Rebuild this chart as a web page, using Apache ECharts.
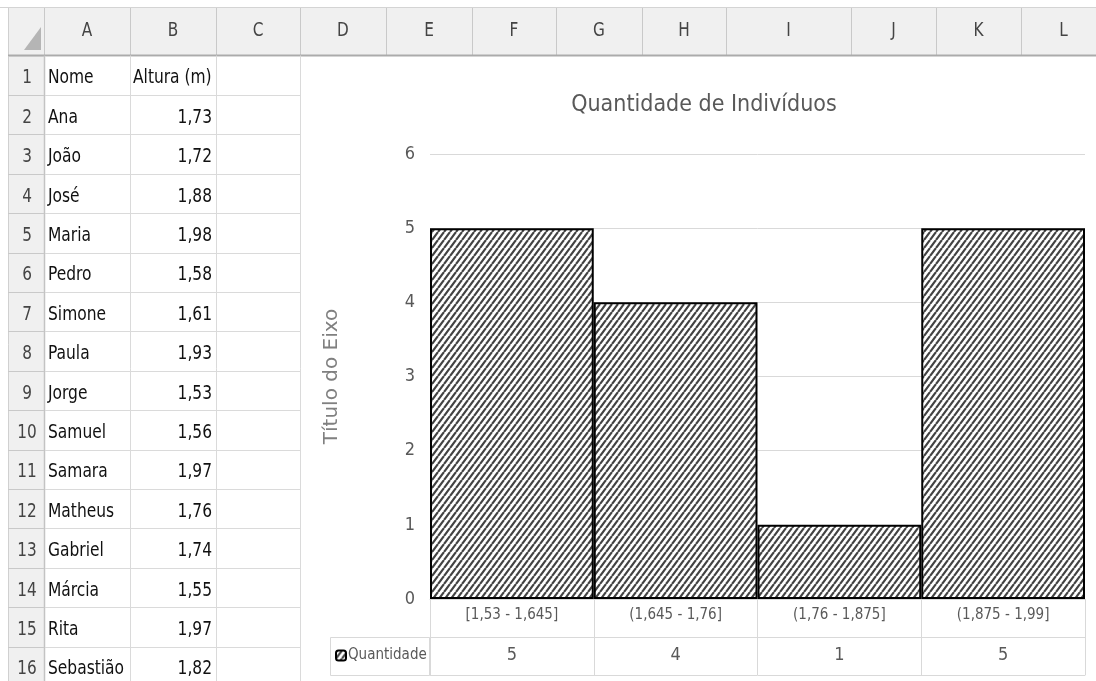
<!DOCTYPE html>
<html>
<head>
<meta charset="utf-8">
<script src="https://cdn.jsdelivr.net/npm/echarts@6/dist/echarts.min.js"></script>
<style>
html,body{margin:0;padding:0;background:#fff;}
#main{width:1096px;height:681px;}
</style>
</head>
<body>
<div id="main"></div>
<script>
// ---- data ----
const columnLetters = ['A','B','C','D','E','F','G','H','I','J','K','L'];
const headerRow = ['Nome','Altura (m)'];
const names = ['Ana','João','José','Maria','Pedro','Simone','Paula','Jorge','Samuel','Samara','Matheus','Gabriel','Márcia','Rita','Sebastião'];
const heights = [1.73,1.72,1.88,1.98,1.58,1.61,1.93,1.53,1.56,1.97,1.76,1.74,1.55,1.97,1.82];
const categories = ['[1,53 - 1,645]','(1,645 - 1,76]','(1,76 - 1,875]','(1,875 - 1,99]'];
const quantities = [5,4,1,5];
const seriesName = 'Quantidade';
const chartTitle = 'Quantidade de Indivíduos';
const yAxisTitle = 'Título do Eixo';

// ---- styles / layout ----
const FONT = '"Liberation Sans Narrow","DejaVu Sans Condensed","Roboto Condensed","Noto Sans",sans-serif';
const colEdges = [44,130,216,300,386,472,556,642,726,851,936,1021,1106];
const rowTop = 55.5, rowH = 39.4, headTop = 8, rhLeft = 8;

function hatch(){
  const W = 6, H = 8;
  const c = document.createElement('canvas');
  c.width = W; c.height = H;
  const g = c.getContext('2d');
  g.fillStyle = '#ffffff'; g.fillRect(0,0,W,H);
  g.strokeStyle = '#434343'; g.lineWidth = 2.2;
  g.beginPath();
  [-W, 0, W].forEach(function(dx){ g.moveTo(dx, H); g.lineTo(dx + W, 0); });
  g.stroke();
  return c;
}
const hatchFill = {image: hatch(), repeat: 'repeat'};

function txt(text, x, y, align, size, color, sx){
  return {type:'text', z:-1, silent:true, x:x, y:y, scaleX: sx || 0.9,
    style:{text:text, x:0, y:0, align:align, textAlign:align, verticalAlign:'middle', textVerticalAlign:'middle', font: size+'px '+FONT, fill:color}};
}
function ln(x1,y1,x2,y2,color,w){
  return {type:'line', z:-2, silent:true, shape:{x1:x1,y1:y1,x2:x2,y2:y2}, style:{stroke:color, lineWidth:w||1}};
}

const g = [];
// header backgrounds
g.push({type:'rect', z:-3, silent:true, shape:{x:rhLeft,y:headTop,width:1096-rhLeft,height:rowTop-headTop}, style:{fill:'#f0f0f0'}});
g.push({type:'rect', z:-3, silent:true, shape:{x:rhLeft,y:rowTop,width:44-rhLeft,height:681-rowTop}, style:{fill:'#f0f0f0'}});
g.push(ln(0,7.5,1096,7.5,'#d4d4d4',1));
g.push(ln(rhLeft+0.5,headTop,rhLeft+0.5,681,'#d0d0d0',1));
// corner triangle
g.push({type:'polygon', z:-1, silent:true, shape:{points:[[24,50],[41,50],[41,27]]}, style:{fill:'#b5b5b5'}});
// column header separators & letters
colEdges.forEach(function(x){ g.push(ln(x+0.5,headTop,x+0.5,rowTop,'#c9c9c9',1)); });
columnLetters.forEach(function(l,i){ g.push(txt(l,(colEdges[i]+colEdges[i+1])/2,31,'center',20,'#444444',0.85)); });
g.push(ln(rhLeft,rowTop,1096,rowTop,'#ababab',2));
g.push(ln(44.5,rowTop,44.5,681,'#c3c3c3',1.5));
// rows
const nRows = names.length + 1;
for (let r = 0; r <= nRows; r++) {
  const y = Math.round(rowTop + r*rowH) + 0.5;
  g.push(ln(rhLeft, y, 44, y, '#c9c9c9', 1));
  g.push(ln(45, y, 300, y, '#dadada', 1));
}
[130,216,300].forEach(function(x){ g.push(ln(x+0.5,rowTop,x+0.5,681,'#dadada',1)); });
for (let r = 0; r < nRows; r++) {
  const cy = rowTop + r*rowH + rowH/2 + 3;
  g.push(txt(String(r+1), 27, cy, 'center', 20, '#444444', 0.85));
  if (r === 0) {
    g.push(txt(headerRow[0], 48, cy, 'left', 20, '#111111', 0.86));
    g.push(txt(headerRow[1], 133, cy, 'left', 20, '#111111', 0.86));
  } else {
    g.push(txt(names[r-1], 48, cy, 'left', 20, '#111111', 0.86));
    g.push(txt(heights[r-1].toFixed(2).replace('.',','), 212, cy, 'right', 20, '#111111', 0.86));
  }
}
// data-table legend box (left of values row)
g.push({type:'rect', z:1, silent:true, shape:{x:330.5,y:637.5,width:99,height:38}, style:{fill:'none', stroke:'#d9d9d9', lineWidth:1}});

const chart = echarts.init(document.getElementById('main'), null, {renderer:'canvas'});
chart.setOption({
  animation: false,
  backgroundColor: '#ffffff',
  title: {
    text: chartTitle, left: 699, top: 89, textAlign: 'center',
    textStyle: {fontFamily: FONT, fontSize: 23, fontWeight: 'normal', color: '#595959'}
  },
  legend: {
    data: [seriesName], left: 335, top: 648, padding: 0,
    itemWidth: 10, itemHeight: 10, itemGap: 4,
    textStyle: {fontFamily: FONT, fontSize: 15, color: '#595959', padding:[0,0,0,-3]}
  },
  grid: {left: 430, right: 11, top: 154, bottom: 82, containLabel: false},
  xAxis: [
    {type:'category', data: categories, position:'bottom',
     axisLine:{show:true, lineStyle:{color:'#d9d9d9'}},
     axisTick:{show:true, length:38, lineStyle:{color:'#d9d9d9'}},
     axisLabel:{margin:9, fontFamily:FONT, fontSize:15, color:'#595959', interval:0}},
    {type:'category', data: quantities.map(String), position:'bottom', offset:38,
     axisLine:{show:true, lineStyle:{color:'#d9d9d9'}},
     axisTick:{show:true, length:38, lineStyle:{color:'#d9d9d9'}},
     axisLabel:{margin:9, fontFamily:FONT, fontSize:18, color:'#595959', interval:0}},
    {type:'category', data: categories, position:'bottom', offset:76,
     axisLine:{show:true, lineStyle:{color:'#d9d9d9'}},
     axisTick:{show:false}, axisLabel:{show:false}}
  ],
  yAxis: {
    type:'value', min:0, max:6, interval:1,
    name: yAxisTitle, nameLocation:'middle', nameRotate:90, nameGap:88,
    nameTextStyle:{fontFamily:'"DejaVu Sans","Open Sans",sans-serif', fontSize:20, color:'#808080'},
    axisLine:{show:false}, axisTick:{show:false},
    axisLabel:{margin:15, fontFamily:FONT, fontSize:18, color:'#595959'},
    splitLine:{lineStyle:{color:'#d9d9d9'}}
  },
  series: [{
    name: seriesName, type:'bar', xAxisIndex:0, data: quantities,
    barCategoryGap:'0%',
    itemStyle:{color: hatchFill, borderColor:'#000000', borderWidth:2},
    emphasis:{disabled:true}
  }],
  graphic: g
});
</script>
</body>
</html>
